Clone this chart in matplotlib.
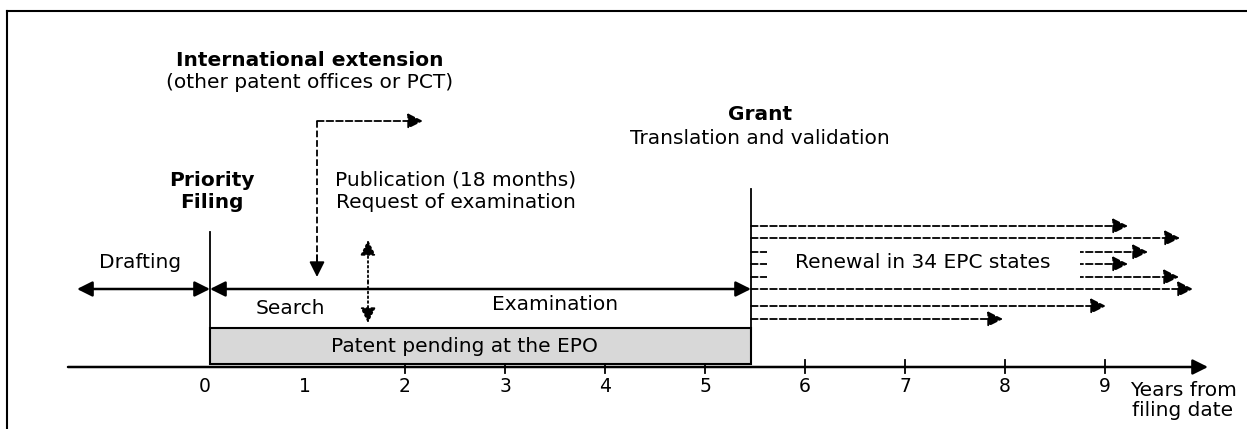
import matplotlib.pyplot as plt
from matplotlib.patches import Rectangle

# timeline (years from filing date)
tick_years = [0, 1, 2, 3, 4, 5, 6, 7, 8, 9]
tick_marks = [2, 3, 4, 5, 6, 7, 8, 9]
filing_year = 0.05
grant_year = 5.46
drafting_start = -1.28
ext_year = 1.12
ext_end = 2.18
publication_year = 1.63
axis_start = -1.37
axis_end = 10.03

# renewal arrows after grant: row level and end year
renewal_rows = [226, 238, 252, 264, 277, 289, 306, 319]
renewal_ends = [9.23, 9.75, 9.43, 9.23, 9.74, 9.88, 9.01, 7.98]

FS = 14.5

fig = plt.figure(figsize=(12.47, 4.29), dpi=100)
ax = fig.add_axes([0, 0, 1, 1])
ax.set_xlim(-2.05, 10.42)
ax.set_ylim(429, 0)
ax.axis('off')


def arrow(x0, y0, x1, y1, style='-|>', ls='-', lw=1.8, ms=23):
    ax.annotate('', xy=(x1, y1), xytext=(x0, y0),
                arrowprops=dict(arrowstyle=style, color='black', lw=lw, ls=ls,
                                shrinkA=0, shrinkB=0, mutation_scale=ms))


# frame (top and left edges visible)
ax.plot([-1.98, 10.42], [11, 11], color='black', lw=1.5)
ax.plot([-1.98, -1.98], [11, 429], color='black', lw=1.5)

# time axis
arrow(axis_start, 367, axis_end, 367, lw=1.8)
for t in tick_marks:
    ax.plot([t, t], [360, 373], color='black', lw=1.3)
for t in tick_years:
    ax.text(t, 386, str(t), ha='center', va='center', fontsize=FS - 1)
ax.text(9.78, 390, 'Years from', ha='center', va='center', fontsize=FS)
ax.text(9.78, 411, 'filing date', ha='center', va='center', fontsize=FS)

# patent pending bar
ax.add_patch(Rectangle((filing_year, 328), grant_year - filing_year, 36,
                       facecolor='#d8d8d8', edgecolor='black', lw=1.5, zorder=2))
ax.text(2.59, 346, 'Patent pending at the EPO',
        ha='center', va='center', fontsize=FS, zorder=3)

# vertical milestone lines
ax.plot([filing_year, filing_year], [232, 364], color='black', lw=1.3)
ax.plot([grant_year, grant_year], [189, 364], color='black', lw=1.3)

# drafting and search/examination arrows
arrow(drafting_start, 289, filing_year, 289, style='<|-|>')
arrow(filing_year, 289, grant_year, 289, style='<|-|>')
ax.text(-0.65, 263, 'Drafting', ha='center', va='center', fontsize=FS)
ax.text(0.85, 308, 'Search', ha='center', va='center', fontsize=FS)
ax.text(3.5, 304, 'Examination', ha='center', va='center', fontsize=FS)

# labels above
ax.text(0.07, 180, 'Priority', ha='center', va='center', fontsize=FS, fontweight='bold')
ax.text(0.07, 203, 'Filing', ha='center', va='center', fontsize=FS, fontweight='bold')
ax.text(1.05, 60, 'International extension', ha='center', va='center',
        fontsize=FS, fontweight='bold')
ax.text(1.05, 83, '(other patent offices or PCT)', ha='center', va='center', fontsize=FS)
ax.text(2.51, 180, 'Publication (18 months)', ha='center', va='center', fontsize=FS)
ax.text(2.51, 203, 'Request of examination', ha='center', va='center', fontsize=FS)
ax.text(5.55, 115, 'Grant', ha='center', va='center', fontsize=FS, fontweight='bold')
ax.text(5.55, 138, 'Translation and validation', ha='center', va='center', fontsize=FS)

# international extension (dashed)
ax.plot([ext_year, ext_year], [121, 262], color='black', lw=1.3, ls='--')
arrow(ext_year, 255, ext_year, 277, lw=1.3)
arrow(ext_year, 121, ext_end, 121, ls='--', lw=1.3)

# publication / request (dotted)
arrow(publication_year, 282, publication_year, 240, ls=':', lw=1.3)
arrow(publication_year, 282, publication_year, 323, ls=':', lw=1.3)

# renewals
for row, end in zip(renewal_rows, renewal_ends):
    arrow(grant_year, row, end, row, ls='--', lw=1.3)
ax.add_patch(Rectangle((5.62, 246), 3.13, 36, facecolor='white', edgecolor='none', zorder=3))
ax.text(7.18, 263, 'Renewal in 34 EPC states', ha='center', va='center',
        fontsize=FS, zorder=4)

fig.savefig('out.png', dpi=100)
